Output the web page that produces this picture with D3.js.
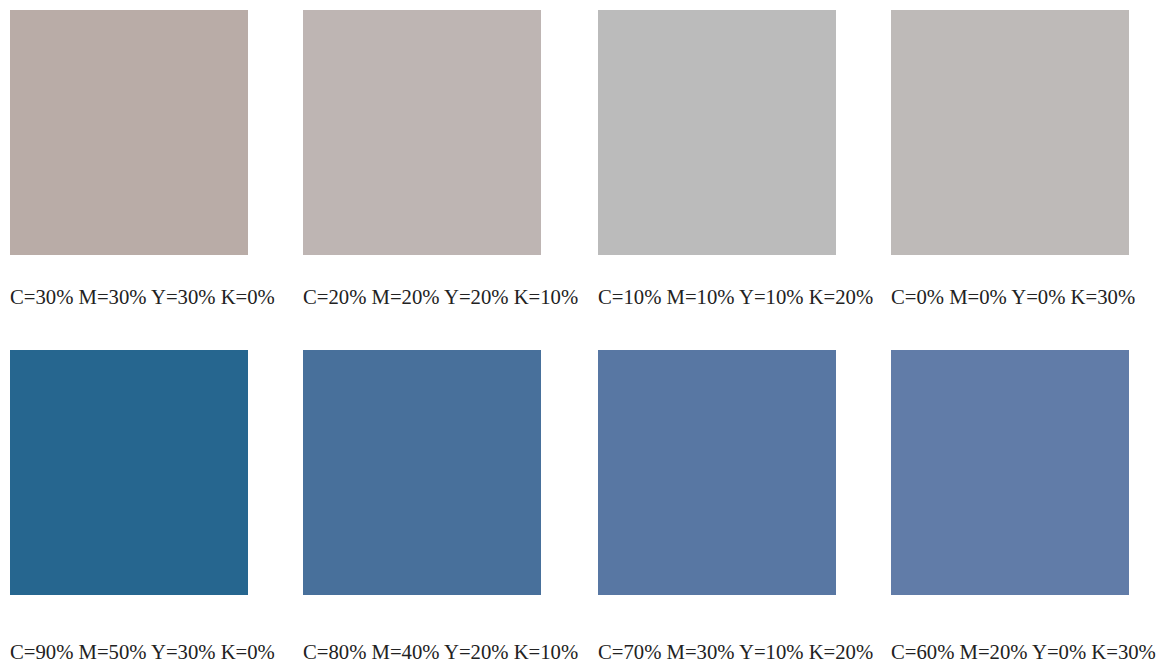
<!DOCTYPE html>
<html><head><meta charset="utf-8">
<script src="https://cdn.jsdelivr.net/npm/d3@7"></script>
<style>html,body{margin:0;padding:0;background:#fff;}svg{display:block;}</style>
</head><body>
<svg id="chart" width="1162" height="664"></svg>
<script>
const labels = [
  "C=30% M=30% Y=30% K=0%", "C=20% M=20% Y=20% K=10%", "C=10% M=10% Y=10% K=20%", "C=0% M=0% Y=0% K=30%",
  "C=90% M=50% Y=30% K=0%", "C=80% M=40% Y=20% K=10%", "C=70% M=30% Y=10% K=20%", "C=60% M=20% Y=0% K=30%"
];
const colors = ["#b9aca7", "#beb5b3", "#bbbbbb", "#bebab8", "#26668f", "#48709b", "#5877a3", "#617ca8"];
const cols = [0, 1, 2, 3, 0, 1, 2, 3];
const rows = [0, 0, 0, 0, 1, 1, 1, 1];

const svg = d3.select("#chart");
const colX = d3.scaleOrdinal().domain([0,1,2,3]).range([10, 303, 598, 891]);
const rowY = d3.scaleOrdinal().domain([0,1]).range([10, 350]);
const labelY = d3.scaleOrdinal().domain([0,1]).range([304, 659]);
const size = {w: 238, h: 245};

const g = svg.selectAll("g.cell").data(labels.map((l,i)=>({l, c: colors[i], col: cols[i], row: rows[i]})))
  .enter().append("g").attr("class","cell");
g.append("rect")
  .attr("x", d => colX(d.col)).attr("y", d => rowY(d.row))
  .attr("width", size.w).attr("height", size.h)
  .attr("fill", d => d.c);
g.append("text")
  .attr("x", d => colX(d.col)).attr("y", d => labelY(d.row))
  .attr("font-family", "'Liberation Serif', 'Times New Roman', serif")
  .attr("font-size", 20.7).attr("fill", "#222")
  .text(d => d.l);
</script>
</body></html>
